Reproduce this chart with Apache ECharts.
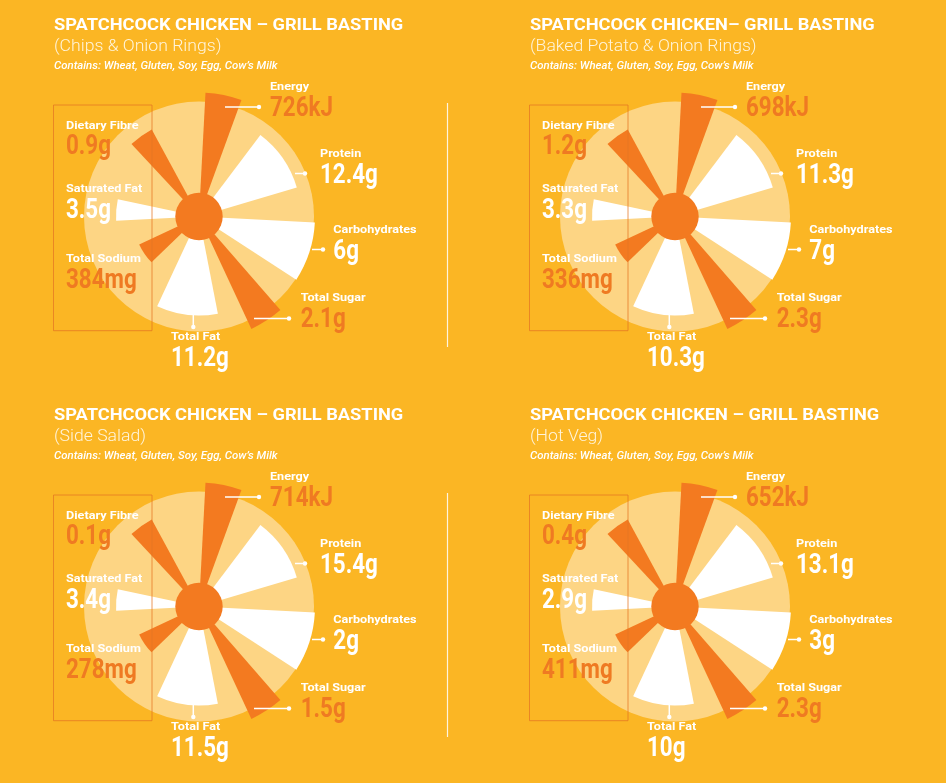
<!DOCTYPE html>
<html>
<head>
<meta charset="utf-8">
<script src="https://cdn.jsdelivr.net/npm/echarts@6/dist/echarts.min.js"></script>
<style>
html,body{margin:0;padding:0;background:#FBB624;}
#chart{width:946px;height:783px;}
</style>
</head>
<body>
<div id="chart"></div>
<script>
// ---------- data ----------
const titles = [
  'SPATCHCOCK CHICKEN – GRILL BASTING',
  'SPATCHCOCK CHICKEN– GRILL BASTING',
  'SPATCHCOCK CHICKEN – GRILL BASTING',
  'SPATCHCOCK CHICKEN – GRILL BASTING'
];
const subtitles = ['(Chips & Onion Rings)', '(Baked Potato & Onion Rings)', '(Side Salad)', '(Hot Veg)'];
const allergens = 'Contains: Wheat, Gluten, Soy, Egg, Cow’s Milk';
const nutrients = ['Energy', 'Protein', 'Carbohydrates', 'Total Sugar', 'Total Fat', 'Total Sodium', 'Saturated Fat', 'Dietary Fibre'];
const units = ['kJ', 'g', 'g', 'g', 'g', 'mg', 'g', 'g'];
const energy = [726, 698, 714, 652];
const protein = [12.4, 11.3, 15.4, 13.1];
const carbohydrates = [6, 7, 2, 3];
const totalSugar = [2.1, 2.3, 1.5, 2.3];
const totalFat = [11.2, 10.3, 11.5, 10];
const totalSodium = [384, 336, 278, 411];
const saturatedFat = [3.5, 3.3, 3.4, 2.9];
const dietaryFibre = [0.9, 1.2, 0.1, 0.4];
// decorative sunburst (same in every panel): angular span (deg, clockwise from top) and reach of each ray
const wedgeFrom = [3, 37, 93, 139, 169, 226, 267, 317];
const wedgeTo = [20, 73.5, 123, 155, 205, 245, 282, 331.5];
const wedgeReach = [124, 102, 116, 124, 99, 66, 83, 99];

// ---------- layout & style ----------
const valuesByNutrient = [energy, protein, carbohydrates, totalSugar, totalFat, totalSodium, saturatedFat, dietaryFibre];
const centers = [[199, 216.5], [675, 216.5], [199, 606.5], [675, 606.5]];
const DISC_R = 115, HUB_R = 23.7, AXIS_MAX = 124;
const ORANGE = '#F37A20', VALUE_ORANGE = '#EF7A22', DISC = '#FDD584', WHITE = '#FFFFFF';
const rayIsOrange = [true, false, false, true, false, true, false, true];
const labelLayout = [
  {dx: 71, dy: -129, line: [[26, -109.5], [60, -109.5]]},
  {dx: 121, dy: -62.3, line: [[96, -43], [106, -43]]},
  {dx: 134.3, dy: 13.7, line: [[113, 33], [124, 33]]},
  {dx: 101.7, dy: 82, line: [[55, 102], [90, 102]]},
  {dx: -28, dy: 121, line: [[-5.7, 98.5], [-5.7, 110.5]]},
  {dx: -133, dy: 42.7, line: null},
  {dx: -133, dy: -27.3, line: null},
  {dx: -133, dy: -90.7, line: null}
];

function renderItem(params, api) {
  const kind = api.value(3);
  const c = api.coord([0, 0]);
  const p0 = api.coord([api.value(0), api.value(1)]);
  const p1 = api.coord([api.value(0), api.value(2)]);
  const r = Math.hypot(p0[0] - c[0], p0[1] - c[1]);
  if (kind < 0) {
    return {type: 'circle', shape: {cx: c[0], cy: c[1], r: r}, style: {fill: kind === -2 ? DISC : ORANGE}};
  }
  let a0 = Math.atan2(p0[1] - c[1], p0[0] - c[0]);
  let a1 = Math.atan2(p1[1] - c[1], p1[0] - c[0]);
  if (a1 < a0) a1 += Math.PI * 2;
  return {
    type: 'sector',
    shape: {cx: c[0], cy: c[1], r0: 0, r: r, startAngle: a0, endAngle: a1, clockwise: true},
    style: {fill: rayIsOrange[kind] ? ORANGE : WHITE}
  };
}

const items = [[DISC_R, 0, 360, -2]];
for (let k = 0; k < wedgeReach.length; k++) items.push([wedgeReach[k], wedgeFrom[k], wedgeTo[k], k]);
items.push([HUB_R, 0, 360, -1]);

const polar = [], angleAxis = [], radiusAxis = [], series = [], graphic = [];
centers.forEach((c, i) => {
  polar.push({center: [c[0], c[1]], radius: AXIS_MAX});
  angleAxis.push({polarIndex: i, type: 'value', min: 0, max: 360, startAngle: 90, clockwise: true, show: false,
    axisLine: {show: false}, axisTick: {show: false}, axisLabel: {show: false}, splitLine: {show: false}});
  radiusAxis.push({polarIndex: i, type: 'value', min: 0, max: AXIS_MAX, show: false,
    axisLine: {show: false}, axisTick: {show: false}, axisLabel: {show: false}, splitLine: {show: false}});
  series.push({type: 'custom', coordinateSystem: 'polar', polarIndex: i, clip: false, silent: true, data: items, renderItem: renderItem});

  const cx = c[0], cy = c[1];
  const ox = cx - 145; // left text column of the panel
  // titles
  graphic.push({type: 'text', z: 100, x: ox, y: cy - 190.6, scaleX: 1.14,
    style: {text: titles[i], fill: WHITE, font: 'bold 16px Roboto', verticalAlign: 'middle'}});
  graphic.push({type: 'text', z: 100, x: ox, y: cy - 170, scaleX: 1.1,
    style: {text: subtitles[i], fill: 'rgba(255,250,235,0.92)', font: '300 16px Roboto', verticalAlign: 'middle'}});
  graphic.push({type: 'text', z: 100, x: ox, y: cy - 150.2, scaleX: 1.14,
    style: {text: allergens, fill: WHITE, font: 'italic 500 10px Roboto', verticalAlign: 'middle'}});
  // bracket box round the left column
  graphic.push({type: 'rect', z: 100, shape: {x: cx - 145.5, y: cy - 111.5, width: 98.5, height: 225.7},
    style: {fill: 'none', stroke: 'rgba(228,118,35,0.75)', lineWidth: 1}});
  // divider
  if (i % 2 === 0) {
    graphic.push({type: 'line', z: 100, shape: {x1: 447.5, y1: cy - 113.5, x2: 447.5, y2: cy + 130.5},
      style: {stroke: 'rgba(255,255,255,0.85)', lineWidth: 1.2}});
  }
  nutrients.forEach((name, k) => {
    const L = labelLayout[k];
    graphic.push({type: 'text', z: 100, x: cx + L.dx, y: cy + L.dy, scaleX: 1.1,
      style: {text: name, fill: WHITE, font: 'bold 11.5px Roboto', verticalAlign: 'middle'}});
    graphic.push({type: 'text', z: 100, x: cx + L.dx, y: cy + L.dy + 21.5, scaleX: 0.8,
      style: {text: valuesByNutrient[k][i] + units[k], fill: rayIsOrange[k] ? VALUE_ORANGE : WHITE,
        font: 'bold 28px Roboto', verticalAlign: 'middle'}});
    if (L.line) {
      graphic.push({type: 'line', z: 100, shape: {x1: cx + L.line[0][0], y1: cy + L.line[0][1], x2: cx + L.line[1][0], y2: cy + L.line[1][1]},
        style: {stroke: WHITE, lineWidth: 1.5}});
      graphic.push({type: 'circle', z: 100, shape: {cx: cx + L.line[1][0], cy: cy + L.line[1][1], r: 2.2}, style: {fill: WHITE}});
    }
  });
});

const chart = echarts.init(document.getElementById('chart'), null, {renderer: 'canvas'});
chart.setOption({
  backgroundColor: '#FBB624',
  animation: false,
  polar: polar,
  angleAxis: angleAxis,
  radiusAxis: radiusAxis,
  series: series,
  graphic: graphic
});
</script>
</body>
</html>
